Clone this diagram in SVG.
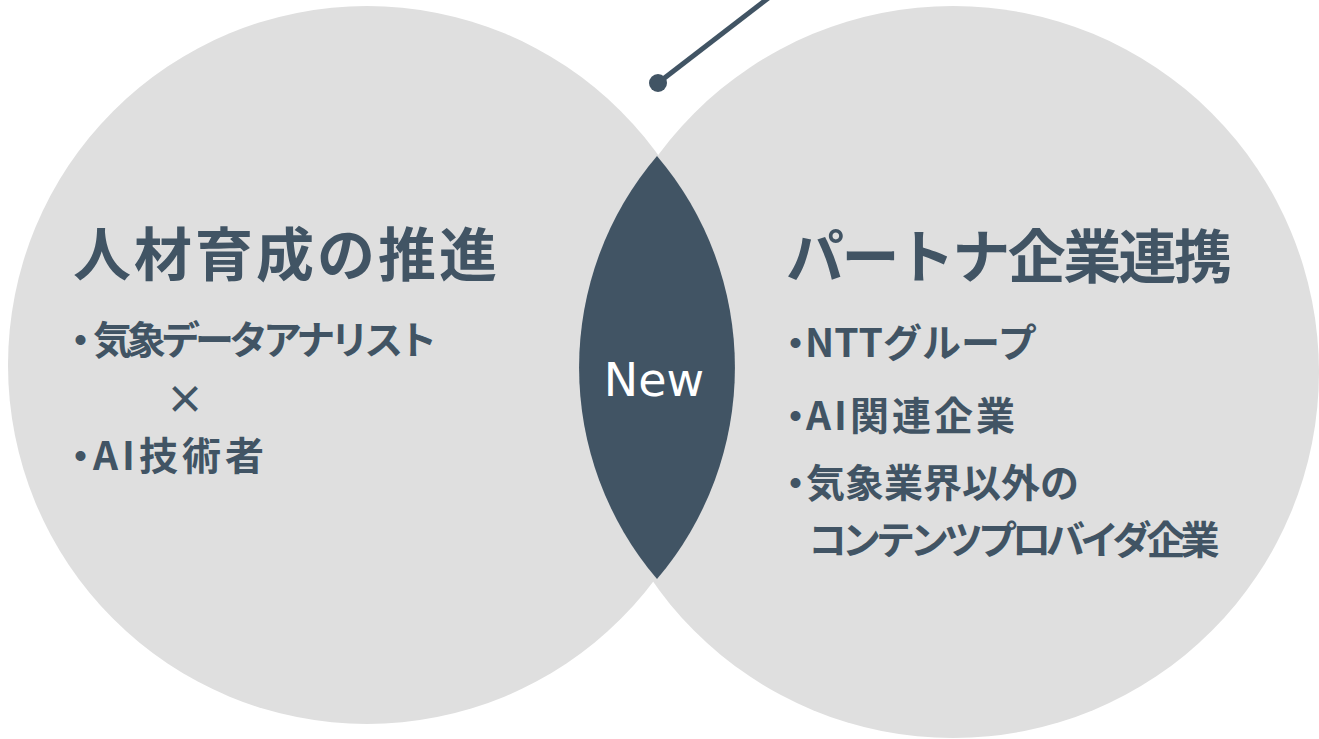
<svg xmlns="http://www.w3.org/2000/svg" width="1319" height="739" viewBox="0 0 1319 739">
<style>
.bg{fill:#dfdfdf}
.dark{fill:#415464}
.title{font-family:"Noto Sans CJK JP","Noto Sans",sans-serif;font-weight:700;font-size:58px;fill:#415464}
.item{font-family:"Noto Sans CJK JP","Noto Sans",sans-serif;font-weight:700;font-size:39px;fill:#415464}
.new{font-family:"DejaVu Sans",Verdana,sans-serif;font-size:46px;fill:#ffffff}
</style>
<rect width="1319" height="739" fill="#ffffff"/>
<g id="left-circle">
<circle class="bg" cx="367" cy="365" r="359"/>
<text class="title" x="73" y="276" textLength="424" lengthAdjust="spacing">人材育成の推進</text>
<text class="item" x="61" y="354" dx="0 -2" letter-spacing="-5">・気象データアナリスト</text>
<text class="item" x="185" y="413" text-anchor="middle">×</text>
<text class="item" x="61" y="470" dx="0 -11" letter-spacing="4">・AI技術者</text>
</g>
<g id="right-circle">
<circle class="bg" cx="953" cy="372" r="366"/>
<text class="title" x="786" y="278" textLength="446" lengthAdjust="spacing">パートナ企業連携</text>
<text class="item" x="776" y="357" dx="0 -10">・NTTグループ</text>
<text class="item" x="776" y="430" dx="0 -12" letter-spacing="3">・AI関連企業</text>
<text class="item" x="776" y="497" dx="0 -9">・気象業界以外の</text>
<text class="item" x="808" y="554" letter-spacing="-5">コンテンツプロバイダ企業</text>
</g>
<g id="overlap">
<path class="dark" d="M657,156 A326,326 0 0 0 657,579 A326,326 0 0 0 657,156 Z"/>
<text class="new" x="654" y="396" text-anchor="middle">New</text>
</g>
<g id="connectors">
<line x1="658" y1="83" x2="771" y2="-4" stroke="#415464" stroke-width="5"/>
<circle class="dark" cx="658" cy="83" r="9"/>
</g>
</svg>
